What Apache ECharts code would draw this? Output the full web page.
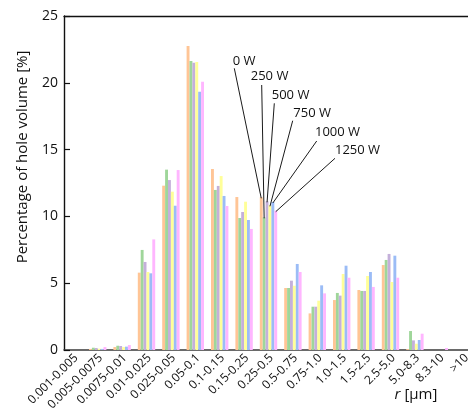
<!DOCTYPE html>
<html>
<head>
<meta charset="utf-8">
<script src="https://cdn.jsdelivr.net/npm/echarts@6/dist/echarts.min.js"></script>
<style>
  html, body { margin: 0; padding: 0; background: #fff; }
  #chart { width: 468px; height: 410px; }
</style>
</head>
<body>
<div id="chart"></div>
<script>
  // size classes of r, in µm
  const categories = ['0.001-0.005', '0.005-0.0075', '0.0075-0.01', '0.01-0.025', '0.025-0.05',
    '0.05-0.1', '0.1-0.15', '0.15-0.25', '0.25-0.5', '0.5-0.75', '0.75-1.0', '1.0-1.5',
    '1.5-2.5', '2.5-5.0', '5.0-8.3', '8.3-10', '>10']
  const yTicks = [0, 5, 10, 15, 20, 25]

  const seriesNames = ['0 W', '250 W', '500 W', '750 W', '1000 W', '1250 W']
  const s0    = [0, 0.08, 0.22, 5.79, 12.3, 22.75, 13.55, 11.45, 11.43, 4.64, 2.74, 3.74, 4.49, 6.36, 0.07, 0, 0]
  const s250  = [0, 0.17, 0.32, 7.49, 13.5, 21.63, 11.98, 9.88, 9.93, 4.64, 3.24, 4.27, 4.42, 6.74, 1.42, 0, 0]
  const s500  = [0, 0.15, 0.30, 6.59, 12.72, 21.5, 12.28, 10.33, 11.13, 5.19, 3.24, 4.07, 4.42, 7.19, 0.72, 0, 0]
  const s750  = [0, 0.10, 0.22, 5.84, 11.85, 21.56, 13.02, 11.1, 10.83, 4.81, 3.69, 5.69, 5.54, 5.09, 0.47, 0, 0]
  const s1000 = [0, 0.08, 0.25, 5.74, 10.8, 19.33, 11.53, 9.73, 11.08, 6.44, 4.84, 6.31, 5.84, 7.06, 0.75, 0, 0]
  const s1250 = [0, 0.22, 0.37, 8.28, 13.47, 20.08, 10.78, 9.06, 10.43, 5.84, 4.24, 5.41, 4.72, 5.41, 1.22, 0.15, 0]
  const allSeries = [s0, s250, s500, s750, s1000, s1250]

  const colors = ['#ffc596', '#9fd69a', '#c4b0da', '#ffff99', '#9bbcf6', '#ffb6ff']
  const BAR_W = 2.9
  const FONT = '"Open Sans", sans-serif'
  // bars of this class carry the labels
  const labelCat = 8
  // label boxes: [left, middle y, line start x, line start y]
  const labelPos = [
    [232.7, 61, 234.3, 68.3],
    [250.7, 76, 261.7, 85],
    [271.7, 95, 274.3, 103.3],
    [293.3, 113, 292.7, 120.7],
    [315, 132, 316.7, 141],
    [335, 150, 335, 158.3]
  ]

  const chart = echarts.init(document.getElementById('chart'))

  const barSeries = allSeries.map((arr, i) => {
    return {
      name: seriesNames[i],
      type: 'bar',
      data: arr,
      barWidth: BAR_W,
      barGap: '0%',
      itemStyle: { color: colors[i] },
      silent: true
    }
  })
  // two empty slots, the original leaves the gap on the right of each group
  barSeries.push({ type: 'bar', data: [], barWidth: BAR_W, barGap: '0%' })
  barSeries.push({ type: 'bar', data: [], barWidth: BAR_W, barGap: '0%' })

  chart.setOption({
    animation: false,
    grid: { left: 64, right: -10.8, top: 16, bottom: 60, outerBoundsMode: 'none', containLabel: false },
    xAxis: [{
      type: 'category',
      data: categories,
      axisLine: { lineStyle: { color: '#3a3a3a', width: 1.6 } },
      axisTick: { show: false },
      axisLabel: { interval: 0, rotate: 45, margin: 6, fontSize: 12, fontFamily: FONT, color: '#111' }
    }, {
      type: 'category',
      position: 'top',
      data: categories,
      axisLine: { lineStyle: { color: '#111', width: 1.4 } },
      axisTick: { show: false },
      axisLabel: { show: false }
    }],
    yAxis: {
      type: 'value',
      min: yTicks[0],
      max: yTicks[yTicks.length - 1],
      interval: 5,
      axisLine: { show: true, lineStyle: { color: '#111', width: 1.4 } },
      axisTick: { show: true, inside: true, length: 6, lineStyle: { color: '#111', width: 1.2 } },
      splitLine: { show: false },
      axisLabel: { margin: 6, fontSize: 14, fontFamily: FONT, color: '#111' }
    },
    series: barSeries
  })

  // leader lines from the labels to the bar tops
  const groupW = BAR_W * barSeries.length
  const graphics = []
  seriesNames.forEach((name, i) => {
    const p = chart.convertToPixel({ gridIndex: 0 }, [labelCat, allSeries[i][labelCat]])
    const bx = p[0] - groupW / 2 + (i + 0.5) * BAR_W
    const lp = labelPos[i]
    graphics.push({
      type: 'line',
      shape: { x1: lp[2], y1: lp[3], x2: bx, y2: p[1] + 1 },
      style: { stroke: '#1a1a1a', lineWidth: 1 },
      z: 10
    })
    graphics.push({
      type: 'text',
      x: lp[0], y: lp[1],
      style: { text: name, fontSize: 13, fontFamily: FONT, fill: '#111', textVerticalAlign: 'middle' },
      z: 10
    })
  })
  graphics.push({
    type: 'text',
    x: 23, y: 157,
    rotation: Math.PI / 2,
    style: {
      text: 'Percentage of hole volume [%]',
      fontSize: 15, fontFamily: FONT, fill: '#111',
      textAlign: 'center', textVerticalAlign: 'middle'
    }
  })
  graphics.push({
    type: 'text',
    x: 416, y: 395,
    style: {
      text: '{i|r} [µm]',
      fontSize: 15, fontFamily: FONT, fill: '#111',
      textAlign: 'center', textVerticalAlign: 'middle',
      rich: { i: { fontStyle: 'italic', fontSize: 15, fontFamily: FONT, fill: '#111' } }
    }
  })
  chart.setOption({ graphic: graphics })
</script>
</body>
</html>
